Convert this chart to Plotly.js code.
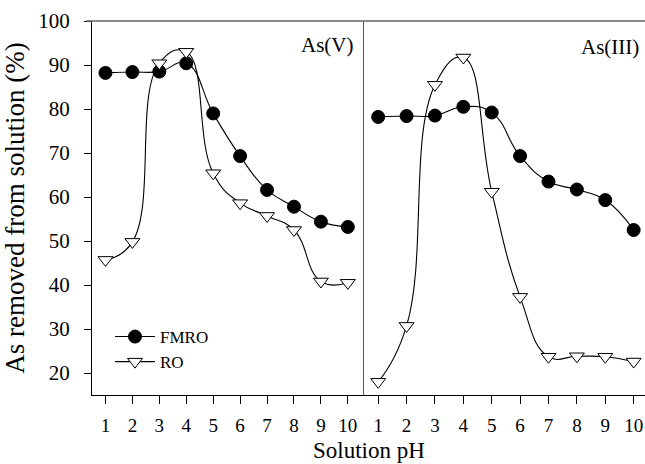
<!DOCTYPE html>
<html>
<head>
<meta charset="utf-8">
<script src="https://cdn.plot.ly/plotly-3.0.1.min.js"></script>
<style>html,body{margin:0;padding:0;background:#fff;}#chart{width:645px;height:464px;}</style>
</head>
<body>
<div id="chart"></div>
<script>
const pH = [1, 2, 3, 4, 5, 6, 7, 8, 9, 10];
const fmroAsV = [88.2, 88.4, 88.5, 90.4, 79.0, 69.3, 61.6, 57.8, 54.4, 53.2];
const roAsV = [45.7, 49.8, 90.4, 93.0, 65.4, 58.6, 55.7, 52.5, 40.8, 40.5];
const fmroAsIII = [78.2, 78.4, 78.5, 80.5, 79.2, 69.3, 63.5, 61.7, 59.3, 52.5];
const roAsIII = [18.0, 30.7, 85.5, 91.7, 61.2, 37.3, 23.7, 23.8, 23.7, 22.6];
const yTicks = [20, 30, 40, 50, 60, 70, 80, 90, 100];

const F = "Liberation Serif, Times New Roman, serif";
const circ = {symbol: 'circle', size: 13, color: '#000', line: {color: '#000', width: 1}};
const tri = {symbol: 'triangle-down', size: 13, color: '#fff', line: {color: '#000', width: 1}};
const ln = {color: '#000', width: 1.1, shape: 'spline', smoothing: 1.3};

const traces = [
  {x: pH, y: fmroAsV, xaxis: 'x', yaxis: 'y', mode: 'lines+markers', name: 'FMRO', marker: circ, line: ln},
  {x: pH, y: roAsV, xaxis: 'x', yaxis: 'y', mode: 'lines+markers', name: 'RO', marker: tri, line: ln},
  {x: pH, y: fmroAsIII, xaxis: 'x2', yaxis: 'y2', mode: 'lines+markers', name: 'FMRO', marker: circ, line: ln, showlegend: false},
  {x: pH, y: roAsIII, xaxis: 'x2', yaxis: 'y2', mode: 'lines+markers', name: 'RO', marker: tri, line: ln, showlegend: false}
];

const split = (364 - 92) / 553;
const xcommon = {
  tickvals: pH, ticks: 'outside', ticklen: 8, tickcolor: '#000', tickwidth: 1,
  showline: true, linecolor: '#000', linewidth: 1, showgrid: false, zeroline: false,
  tickfont: {family: F, size: 19, color: '#000'}, ticklabelstandoff: 5
};
const layout = {
  width: 645, height: 464,
  margin: {l: 92, r: 0, t: 21, b: 69},
  paper_bgcolor: '#fff', plot_bgcolor: '#fff',
  font: {family: F, color: '#000'},
  xaxis: Object.assign({}, xcommon, {domain: [0, split], range: [0.5, 10.6], anchor: 'y'}),
  xaxis2: Object.assign({}, xcommon, {domain: [split, 1], range: [0.5, 10.4], anchor: 'y2'}),
  yaxis: {
    domain: [0, 1], range: [15, 100], tickvals: yTicks, ticks: 'outside', ticklen: 7,
    tickcolor: '#000', showline: true, linecolor: '#000', linewidth: 1, showgrid: false, zeroline: false,
    tickfont: {family: F, size: 21, color: '#000'}, anchor: 'x', ticklabelstandoff: 10,
    title: {text: 'As removed from solution (%)', font: {family: F, size: 27, color: '#000'}, standoff: 10}
  },
  yaxis2: {
    domain: [0, 1], range: [15, 100], showticklabels: false, ticks: '', showline: true,
    linecolor: '#555', linewidth: 1, showgrid: false, zeroline: false, anchor: 'x2'
  },
  shapes: [
    {type: 'line', xref: 'paper', yref: 'paper', x0: -6/553, x1: 1, y0: 1, y1: 1, line: {color: '#666', width: 1.5}}
  ],
  annotations: [
    {text: 'As(V)', xref: 'paper', yref: 'paper', x: split - 8/553, y: 1 - 24/374, xanchor: 'right', yanchor: 'middle', showarrow: false, font: {family: F, size: 21, color: '#000'}},
    {text: 'As(III)', xref: 'paper', yref: 'paper', x: 1 - 4/553, y: 1 - 26/374, xanchor: 'right', yanchor: 'middle', showarrow: false, font: {family: F, size: 21, color: '#000'}},
    {text: 'Solution pH', xref: 'paper', yref: 'paper', x: 0.5, y: 0, yshift: -55, xanchor: 'center', yanchor: 'middle', showarrow: false, font: {family: F, size: 23, color: '#000'}}
  ],
  showlegend: true,
  legend: {x: 18/553, y: 1 - 298/374, xanchor: 'left', yanchor: 'top', bgcolor: 'rgba(0,0,0,0)', font: {family: F, size: 17, color: '#000'}, tracegroupgap: 0, itemwidth: 40}
};
Plotly.newPlot('chart', traces, layout, {displayModeBar: false, staticPlot: true});
</script>
</body>
</html>
